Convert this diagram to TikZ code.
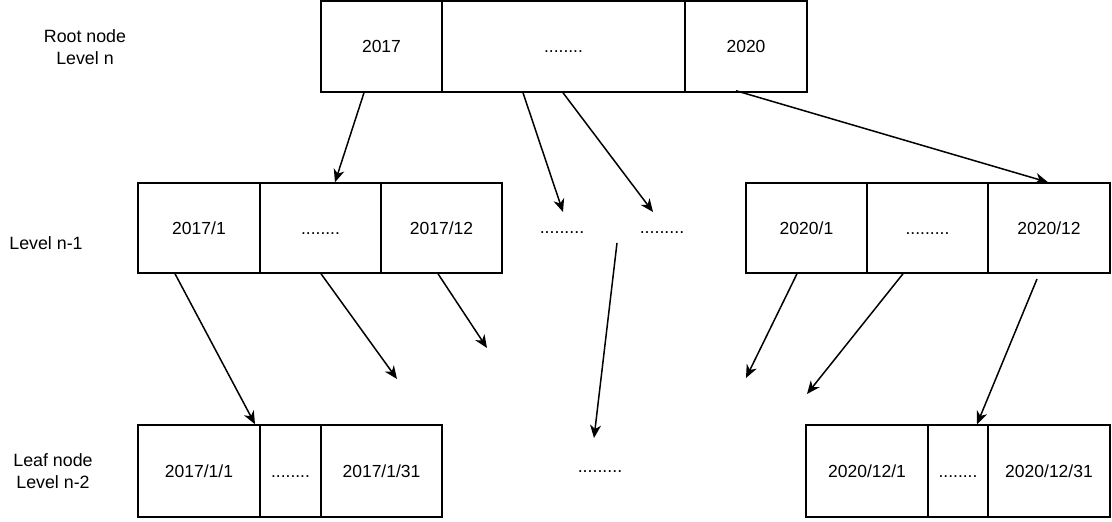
\documentclass[tikz,border=0pt]{standalone}
\usepackage{fontspec}
\setmainfont{Liberation Sans}
\usetikzlibrary{arrows.meta,calc}
\begin{document}
\begin{tikzpicture}[x=1pt,y=-1pt,
  cell/.style={draw,line width=1.5pt,inner sep=0pt,minimum height=#1,text height=12.5pt,text depth=0pt,font=\fontsize{17.5}{21}\selectfont},
  lbl/.style={font=\fontsize{17.8}{22}\selectfont,align=center,inner sep=0pt},
  arr/.style={line width=1.5pt,-{Stealth[length=13pt,width=11pt,inset=4pt]}}]
\useasboundingbox (0,0) rectangle (1112,522);
% labels
\node[lbl] (lr) at (85,47) {Root node\\Level n};
\node[lbl] (ll) at (46,243) {Level n-1};
\node[lbl] (lf) at (53,471) {Leaf node\\Level n-2};
% root
\node[cell=91pt,minimum width=121pt] (r1) at (381.5,46.5) {2017};
\node[cell=91pt,minimum width=243pt] (r2) at (563.5,46.5) {........};
\node[cell=91pt,minimum width=122pt] (r3) at (746,46.5) {2020};
% level n-1
\node[cell=90pt,minimum width=122pt] (a1) at (199,228) {2017/1};
\node[cell=90pt,minimum width=121pt] (a2) at (320.5,228) {........};
\node[cell=90pt,minimum width=121pt] (a3) at (441.5,228) {2017/12};
\node[cell=90pt,minimum width=121pt] (b1) at (806.5,228) {2020/1};
\node[cell=90pt,minimum width=121pt] (b2) at (927.5,228) {.........};
\node[cell=90pt,minimum width=122pt] (b3) at (1049,228) {2020/12};
\node[lbl] (d1) at (562,233) {.........};
\node[lbl] (d2) at (662,233) {.........};
% leaves
\node[cell=92pt,minimum width=122pt] (c1) at (199,471) {2017/1/1};
\node[cell=92pt,minimum width=61pt] (c2) at (290.5,471) {........};
\node[cell=92pt,minimum width=121pt] (c3) at (381.5,471) {2017/1/31};
\node[cell=92pt,minimum width=122pt] (e1) at (867,471) {2020/12/1};
\node[cell=92pt,minimum width=60pt] (e2) at (958,471) {........};
\node[cell=92pt,minimum width=122pt] (e3) at (1049,471) {2020/12/31};
\node[lbl] (d3) at (600,472) {.........};
% free ends
\coordinate (p2) at (563,212);
\coordinate (p3) at (653,212);
\coordinate (p6) at (397,379);
\coordinate (p7) at (487,348);
\coordinate (q8) at (617,243);
\coordinate (p8) at (594,438);
\coordinate (p9) at (746,378);
\coordinate (p10) at (807,394);
\coordinate (q11) at (1037,279);
% arrows
\draw[arr] ($(r1.south)+(-17.5,0)$) -- ($(a2.north)+(14.5,0)$);
\draw[arr] ($(r2.south)+(-40.5,0)$) -- (p2);
\draw[arr] ($(r2.south)+(-0.5,0)$) -- (p3);
\draw[arr] ($(r3.south)+(-10,-2)$) -- ($(b3.north)+(-1,0)$);
\draw[arr] ($(a1.south)+(-24,0)$) -- ($(c1.north)+(56,0)$);
\draw[arr] ($(a2.south)+(0.5,0)$) -- (p6);
\draw[arr] ($(a3.south)+(-3.5,0)$) -- (p7);
\draw[arr] (q8) -- (p8);
\draw[arr] ($(b1.south)+(-9.5,0)$) -- (p9);
\draw[arr] ($(b2.south)+(-24.5,0)$) -- (p10);
\draw[arr] (q11) -- ($(e2.north)+(19,0)$);
\end{tikzpicture}
\end{document}
